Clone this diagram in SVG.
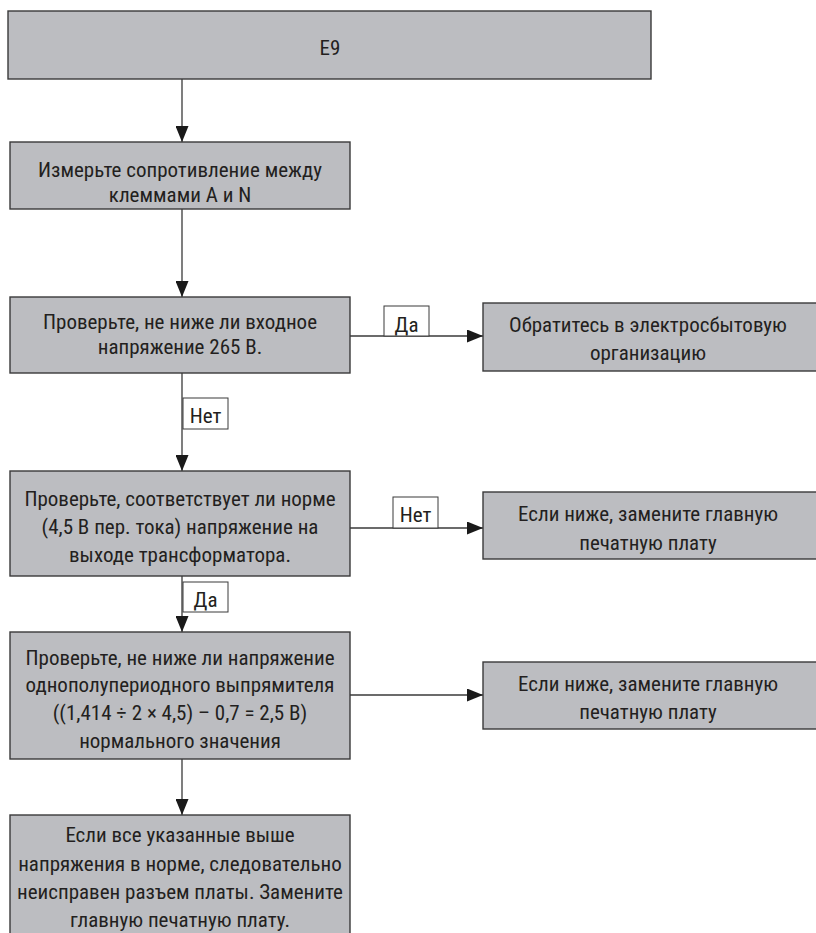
<svg xmlns="http://www.w3.org/2000/svg" width="816" height="933" viewBox="0 0 816 933">
<defs>
<style>
.box{fill:#bcbdc1;stroke:#3a3a3a;stroke-width:1.4}
.lbl{fill:#ffffff;stroke:#3a3a3a;stroke-width:1}
.t{font-family:"Liberation Sans Narrow","Roboto Condensed","DejaVu Sans Condensed","Liberation Sans",sans-serif;font-size:21px;fill:#231f20;text-anchor:middle}
.c{fill:none;stroke:#3a3a3a;stroke-width:1.3}
</style>
<marker id="ah" markerUnits="userSpaceOnUse" markerWidth="17" markerHeight="13" refX="16" refY="6.5" orient="auto">
<path d="M0,0 L16,6.5 L0,13 Z" fill="#1a1a1a"/>
</marker>
</defs>
<rect width="816" height="933" fill="#ffffff"/>
<g id="connectors">
<line class="c" x1="182" y1="79" x2="182" y2="142" marker-end="url(#ah)"/>
<line class="c" x1="182" y1="209" x2="182" y2="297" marker-end="url(#ah)"/>
<line class="c" x1="350" y1="336" x2="483" y2="336" marker-end="url(#ah)"/>
<line class="c" x1="182" y1="373" x2="182" y2="471" marker-end="url(#ah)"/>
<line class="c" x1="350" y1="528" x2="483" y2="528" marker-end="url(#ah)"/>
<line class="c" x1="182" y1="576" x2="182" y2="632" marker-end="url(#ah)"/>
<line class="c" x1="350" y1="695" x2="483" y2="695" marker-end="url(#ah)"/>
<line class="c" x1="182" y1="759" x2="182" y2="815" marker-end="url(#ah)"/>
<g id="label-da1"><rect class="lbl" x="384" y="306" width="45" height="30"/><text class="t" x="406.5" y="332">Да</text></g>
<g id="label-net1"><rect class="lbl" x="183" y="398" width="45" height="31"/><text class="t" x="205.5" y="423">Нет</text></g>
<g id="label-net2"><rect class="lbl" x="393" y="497" width="45" height="31"/><text class="t" x="415.5" y="522">Нет</text></g>
<g id="label-da2"><rect class="lbl" x="183" y="582" width="45" height="30"/><text class="t" x="205.5" y="607">Да</text></g>
</g>
<g id="n1"><rect class="box" x="8" y="11" width="643" height="68"/><text class="t" x="330" y="55">E9</text></g>
<g id="n2"><rect class="box" x="10" y="142" width="340" height="67"/><text class="t" x="180" y="177">Измерьте сопротивление между</text><text class="t" x="180" y="202">клеммами A и N</text></g>
<g id="n3"><rect class="box" x="10" y="297" width="340" height="76"/><text class="t" x="180" y="329">Проверьте, не ниже ли входное</text><text class="t" x="180" y="354">напряжение 265 В.</text></g>
<g id="n4"><rect class="box" x="483" y="303" width="340" height="68"/><text class="t" x="648" y="332">Обратитесь в электросбытовую</text><text class="t" x="648" y="360">организацию</text></g>
<g id="n5"><rect class="box" x="10" y="471" width="340" height="105"/><text class="t" x="180" y="506">Проверьте, соответствует ли норме</text><text class="t" x="180" y="534">(4,5 В пер. тока) напряжение на</text><text class="t" x="180" y="562">выходе трансформатора.</text></g>
<g id="n6"><rect class="box" x="483" y="492" width="340" height="67"/><text class="t" x="648" y="521">Если ниже, замените главную</text><text class="t" x="648" y="550">печатную плату</text></g>
<g id="n7"><rect class="box" x="10" y="632" width="340" height="127"/><text class="t" x="180" y="665">Проверьте, не ниже ли напряжение</text><text class="t" x="180" y="692">однополупериодного выпрямителя</text><text class="t" x="180" y="720">((1,414 ÷ 2 × 4,5) – 0,7 = 2,5 В)</text><text class="t" x="180" y="748">нормального значения</text></g>
<g id="n8"><rect class="box" x="483" y="662" width="340" height="67"/><text class="t" x="648" y="691">Если ниже, замените главную</text><text class="t" x="648" y="719">печатную плату</text></g>
<g id="n9"><rect class="box" x="10" y="815" width="340" height="130"/><text class="t" x="180" y="842">Если все указанные выше</text><text class="t" x="180" y="871">напряжения в норме, следовательно</text><text class="t" x="180" y="899">неисправен разъем платы. Замените</text><text class="t" x="180" y="927">главную печатную плату.</text></g>
</svg>
